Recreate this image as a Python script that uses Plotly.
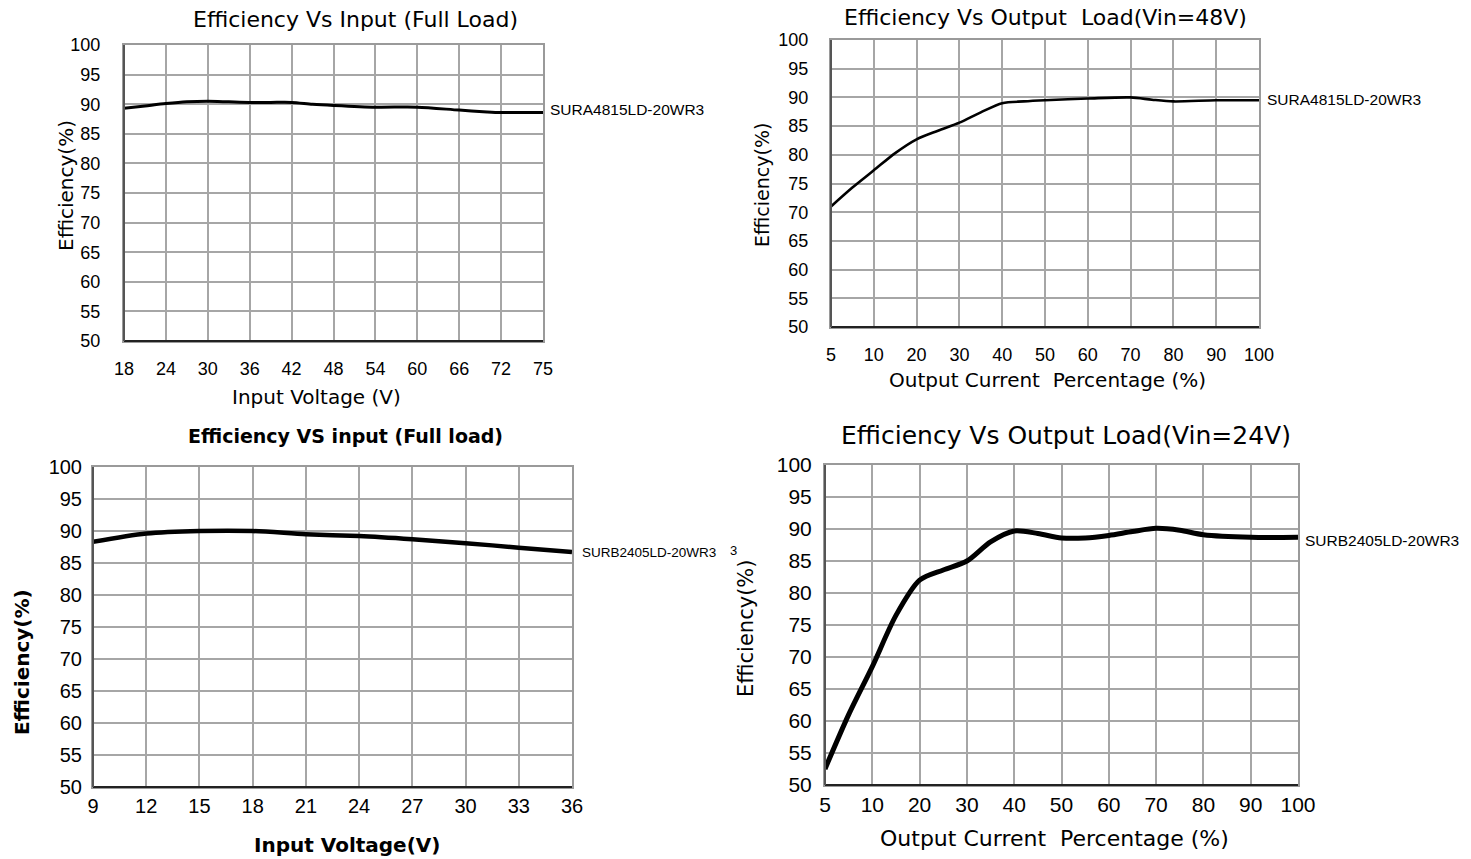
import plotly.graph_objects as go

W, H = 1471, 859

# ---------------- data ----------------
# Top-left: Efficiency vs input voltage (full load), SURA4815LD-20WR3
tl_vin = [18, 21, 24, 27, 30, 33, 36, 39, 42, 45, 48, 54, 60, 66, 70, 72, 75]
tl_eff = [89.3, 89.7, 90.1, 90.4, 90.5, 90.4, 90.3, 90.3, 90.3, 90.0, 89.8, 89.5, 89.5, 89.0, 88.7, 88.6, 88.6]
tl_ticks = [18, 24, 30, 36, 42, 48, 54, 60, 66, 72, 75]

# Top-right: Efficiency vs output load (Vin=48V), SURA4815LD-20WR3
tr_load = [5, 7.5, 10, 15, 20, 25, 30, 35, 40, 45, 50, 60, 70, 75, 80, 90, 100]
tr_eff = [71.0, 74.3, 77.3, 80.3, 82.7, 84.2, 85.6, 87.4, 89.0, 89.3, 89.5, 89.8, 90.0, 89.6, 89.3, 89.5, 89.5]

# Bottom-left: Efficiency vs input voltage (full load), SURB2405LD-20WR3
bl_vin = [9, 12, 15, 18, 21, 24, 27, 30, 33, 36]
bl_eff = [88.3, 89.6, 90.0, 90.0, 89.5, 89.2, 88.7, 88.1, 87.4, 86.7]
bl_ticks = [9, 12, 15, 18, 21, 24, 27, 30, 33, 36]

# Bottom-right: Efficiency vs output load (Vin=24V), SURB2405LD-20WR3
br_load = [5, 7.5, 10, 15, 20, 25, 30, 35, 40, 45, 50, 55, 60, 65, 70, 75, 80, 90, 100]
br_eff = [52.5, 61.0, 68.5, 76.5, 82.0, 83.6, 85.0, 88.0, 89.7, 89.3, 88.6, 88.6, 89.0, 89.6, 90.1, 89.8, 89.1, 88.7, 88.7]

load_ticks = [5, 10, 20, 30, 40, 50, 60, 70, 80, 90, 100]
y_ticks = [50, 55, 60, 65, 70, 75, 80, 85, 90, 95, 100]


# category-like positions (ticks are equally spaced on the original charts)
def load_pos(v):
    return (v - 5) / 5 if v < 10 else v / 10


def vin48_pos(v):
    return (v - 18) / 6 if v <= 72 else 9 + (v - 72) / 3


def px(x):
    return x / W


def py(y):
    return 1 - y / H


fig = go.Figure()

TICKFONT = "Liberation Sans Narrow, Arial Narrow, Liberation Sans, sans-serif"
TITLEFONT = "DejaVu Sans, Liberation Sans, sans-serif"

panels = [
    dict(xs=[vin48_pos(v) for v in tl_vin], ys=tl_eff, dx=(124, 543), dy=(45, 341),
         xr=[0, 10], tv=[vin48_pos(v) for v in tl_ticks], tt=[str(v) for v in tl_ticks],
         lw=3, tfs=18, xso=10, yso=18),
    dict(xs=[load_pos(v) for v in tr_load], ys=tr_eff, dx=(831, 1259), dy=(40, 327),
         xr=[0, 10], tv=[load_pos(v) for v in load_ticks], tt=[str(v) for v in load_ticks],
         lw=2.6, tfs=18, xso=10, yso=17),
    dict(xs=bl_vin, ys=bl_eff, dx=(93, 572), dy=(467, 787),
         xr=[9, 36], tv=bl_ticks, tt=[str(v) for v in bl_ticks],
         lw=4.5, tfs=20, xso=0, yso=5),
    dict(xs=[load_pos(v) for v in br_load], ys=br_eff, dx=(825, 1298), dy=(465, 785),
         xr=[0, 10], tv=[load_pos(v) for v in load_ticks], tt=[str(v) for v in load_ticks],
         lw=5, tfs=21, xso=0, yso=7),
]

layout = dict(width=W, height=H, margin=dict(l=0, r=0, t=0, b=0, autoexpand=False),
              paper_bgcolor="white", plot_bgcolor="white", showlegend=False)
shapes = []
for i, p in enumerate(panels, start=1):
    xa = "x" if i == 1 else f"x{i}"
    ya = "y" if i == 1 else f"y{i}"
    fig.add_trace(go.Scatter(x=p["xs"], y=p["ys"], mode="lines", xaxis=xa, yaxis=ya,
                             line=dict(color="black", width=p["lw"], shape="spline", smoothing=0.8),
                             hoverinfo="skip", cliponaxis=True))
    layout["xaxis" if i == 1 else f"xaxis{i}"] = dict(
        domain=[px(p["dx"][0]), px(p["dx"][1])], range=p["xr"], anchor=ya, automargin=False,
        tickvals=p["tv"], ticktext=p["tt"], showgrid=True, gridcolor="#a6a6a6", gridwidth=2,
        zeroline=False, showline=True, linecolor="#9a9a9a", linewidth=2, mirror=True,
        ticks="", ticklabelstandoff=p["xso"],
        tickfont=dict(family=TICKFONT, size=p["tfs"], color="black"))
    layout["yaxis" if i == 1 else f"yaxis{i}"] = dict(
        domain=[py(p["dy"][1]), py(p["dy"][0])], range=[50, 100], anchor=xa, automargin=False,
        tickvals=y_ticks, showgrid=True, gridcolor="#a6a6a6", gridwidth=2,
        zeroline=False, showline=True, linecolor="#9a9a9a", linewidth=2, mirror=True,
        ticks="", ticklabelstandoff=p["yso"],
        tickfont=dict(family=TICKFONT, size=p["tfs"], color="black"))
    # darker bottom and left frame
    shapes.append(dict(type="line", xref=f"{xa} domain", yref=f"{ya} domain",
                       x0=0, x1=1, y0=0, y1=0, line=dict(color="#222", width=2)))
    shapes.append(dict(type="line", xref=f"{xa} domain", yref=f"{ya} domain",
                       x0=0, x1=0, y0=0, y1=1, line=dict(color="#555", width=2)))

layout["shapes"] = shapes
fig.update_layout(**layout)


def ann(text, x, y, size, family=TITLEFONT, angle=0, xanchor="center", yanchor="middle", bold=False):
    fig.add_annotation(text=f"<b>{text}</b>" if bold else text, x=px(x), y=py(y),
                       xref="paper", yref="paper", showarrow=False, textangle=angle,
                       xanchor=xanchor, yanchor=yanchor,
                       font=dict(family=family, size=size, color="black"))


# titles
ann("Efficiency Vs Input (Full Load)", 355, 20, 22)
ann("Efficiency Vs Output  Load(Vin=48V)", 1045, 18, 22)
ann("Efficiency VS input (Full load)", 345, 436, 19, bold=True)
ann("Efficiency Vs Output Load(Vin=24V)", 1066, 435, 25)

# axis titles
ann("Efficiency(%)", 66, 186, 20, angle=-90)
ann("Input Voltage (V)", 316, 397, 20)
ann("Efficiency(%)", 762, 185, 19, angle=-90)
ann("Output Current  Percentage (%)", 1047, 380, 20)
ann("Efficiency(%)", 22, 662, 20, angle=-90, bold=True)
ann("Input Voltage(V)", 347, 845, 20, bold=True)
ann("Efficiency(%)", 746, 628, 21, angle=-90)
ann("Output Current  Percentage (%)", 1054, 838, 22)
ann("3", 733, 550, 13, family="Liberation Sans, Arial, sans-serif")

# series labels
LBL = "Liberation Sans, Arial, sans-serif"
ann("SURA4815LD-20WR3", 548, 110, 15.5, family=LBL, xanchor="left")
ann("SURA4815LD-20WR3", 1265, 100, 15.5, family=LBL, xanchor="left")
ann("SURB2405LD-20WR3", 580, 552, 13.5, family=LBL, xanchor="left")
ann("SURB2405LD-20WR3", 1303, 540, 15.5, family=LBL, xanchor="left")

fig.write_html("out.html", config={"displayModeBar": False},
               post_script="document.body.style.margin='0';document.body.style.overflow='hidden';")
